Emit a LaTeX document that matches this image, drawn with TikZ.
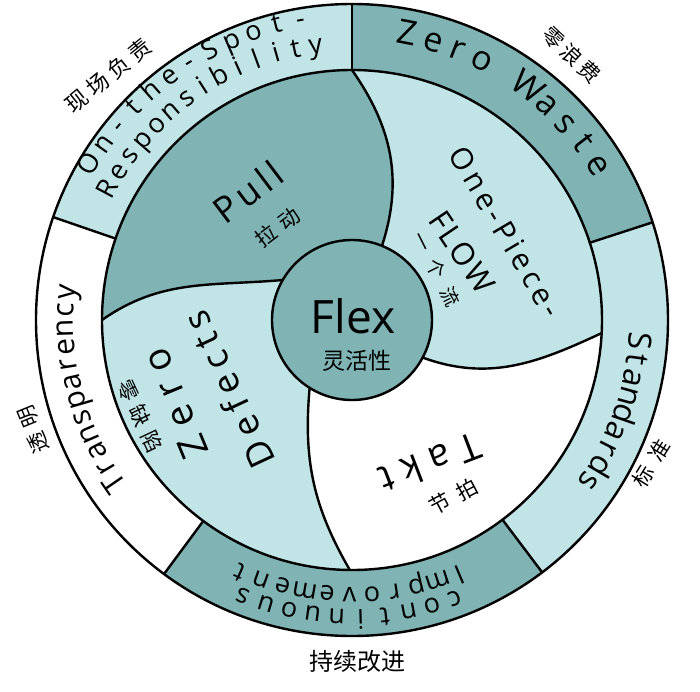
\documentclass[tikz,border=0pt]{standalone}
\usepackage{fontspec}
\setmainfont{Open Sans}
\newfontfamily\cjk{Noto Sans CJK SC}
\definecolor{darkteal}{RGB}{127,179,180}
\definecolor{lightteal}{RGB}{193,228,230}
\newcommand\fs[1]{\fontsize{#1}{#1}\selectfont}
\makeatletter
\newcommand\spacedtext[2]{\def\spt@amt{#1}\spt@first#2\relax}
\def\spt@first#1{#1\spt@next}
\def\spt@next#1{\ifx\relax#1\else\kern\spt@amt\relax#1\expandafter\spt@next\fi}
\makeatother
\tikzset{
  edge/.style={line width=2.4pt, line join=round, line cap=round},
  glyph/.style={inner sep=0pt, text height=0.72em, text depth=0.2em, anchor=center},
  word/.style={inner sep=0pt, anchor=center},
}
% ring text: name, radius, start angle, step, font size, characters
\newcommand\ringtext[6]{%
  \foreach \c [count=\i from 0] in {#6} {
    \pgfmathsetmacro\ang{#3-\i*#4}
    \node[glyph, font=\fs{#5}, rotate=\ang-90] (#1\i) at (\ang:#2) {\c};
  }}
\begin{document}
\begin{tikzpicture}[x=1pt,y=1pt]
\useasboundingbox (-352,-371) rectangle (348,320);
\fill[white] (-352,-371) rectangle (348,320);
% inner disc
\fill[lightteal] (0,0) circle[radius=250];
% Pull region
\fill[darkteal] (90:250) arc[start angle=90,end angle=180,radius=250]
  to[out=35,in=185] (150:80) arc[start angle=150,end angle=68,radius=80]
  to[out=72,in=-55] (90:250) -- cycle;
% Takt region
\fill[white] (-122:80) to[out=-95,in=120] (-90.5:250)
  arc[start angle=-90.5,end angle=-3,radius=250]
  to[out=205,in=-20] (-28:80) arc[start angle=-28,end angle=-122,radius=80] -- cycle;
% ring segments
\fill[darkteal] (18:250) arc[start angle=18,end angle=90,radius=250] -- (90:316) arc[start angle=90,end angle=18,radius=316] -- cycle;
\fill[lightteal] (90:250) arc[start angle=90,end angle=161,radius=250] -- (161:316) arc[start angle=161,end angle=90,radius=316] -- cycle;
\fill[white] (161:250) arc[start angle=161,end angle=233.5,radius=250] -- (233.5:316) arc[start angle=233.5,end angle=161,radius=316] -- cycle;
\fill[darkteal] (233.5:250) arc[start angle=233.5,end angle=307,radius=250] -- (307:316) arc[start angle=307,end angle=233.5,radius=316] -- cycle;
\fill[lightteal] (-53:250) arc[start angle=-53,end angle=18,radius=250] -- (18:316) arc[start angle=18,end angle=-53,radius=316] -- cycle;
% lines
\draw[edge] (0,0) circle[radius=316];
\draw[edge] (0,0) circle[radius=250];
\foreach \a in {90,18,-53,-126.5,161} \draw[edge] (\a:250) -- (\a:316);
\draw[edge] (90:250) to[out=-55,in=72] (68:80);
\draw[edge] (180:250) to[out=35,in=185] (150:80);
\draw[edge] (-122:80) to[out=-95,in=120] (-90.5:250);
\draw[edge] (-28:80) to[out=-20,in=205] (-3:250);
\filldraw[edge, fill=darkteal] (0,0) circle[radius=80];
% centre
\node[font=\fs{46pt}, word] (flex) at (1,4) {Flex};
\node[font=\cjk\fs{23pt}, word] (flexcn) at (5,-41) {灵活性};
% ring texts
\ringtext{zw}{283}{79}{5.2}{34pt}{Z,e,r,o,{},W,a,s,t,e}
\ringtext{os}{299}{149.3}{4.5}{27pt}{O,n,-,t,h,e,-,S,p,o,t,-}
\ringtext{rs}{271}{151.8}{4.17}{27pt}{R,e,s,p,o,n,s,i,b,i,l,i,t,y}
\ringtext{tr}{281}{214.5}{3.65}{30pt}{T,r,a,n,s,p,a,r,e,n,c,y}
\ringtext{st}{280}{-4.1}{3.76}{32pt}{S,t,a,n,d,a,r,d,s}
\ringtext{co}{292}{-69.7}{4.65}{27pt}{c,o,n,t,i,n,u,o,u,s}
\ringtext{im}{270}{-67}{4.7}{27pt}{I,m,p,r,o,v,e,m,e,n,t}
% inner texts
\node[word, font=\fs{36pt}, rotate=37] (pull) at (-104,128) {\spacedtext{5pt}{Pull}};
\node[word, font=\cjk\fs{21pt}, rotate=37] (pullcn) at (-74.5,92.5) {\spacedtext{8pt}{拉动}};
\node[word, font=\fs{30pt}, rotate=-59.5] (opf) at (154,88) {\spacedtext{4.5pt}{One-Piece-}};
\node[word, font=\fs{31pt}, rotate=-56] (flow) at (110,68) {\spacedtext{2pt}{FLOW}};
\node[word, font=\cjk\fs{19pt}, rotate=-63.4] (opfcn) at (84,51) {\spacedtext{12pt}{一个流}};
\node[word, font=\fs{38pt}, rotate=112.5] (zero) at (-177,-83.5) {\spacedtext{11pt}{Zero}};
\node[word, font=\fs{36pt}, rotate=115] (defects) at (-123.5,-70) {\spacedtext{7pt}{Defects}};
\node[word, font=\cjk\fs{21pt}, rotate=-64.8] (zdcn) at (-212,-96) {\spacedtext{7pt}{零缺陷}};
\node[word, font=\fs{38pt}, rotate=201] (takt) at (78,-143.5) {\spacedtext{10pt}{Takt}};
\node[word, font=\cjk\fs{21pt}, rotate=28] (taktcn) at (101.5,-176.5) {\spacedtext{9pt}{节拍}};
% outside labels
\node[word, font=\cjk\fs{22pt}, rotate=39] (xcfz) at (-243.5,244.5) {\spacedtext{5pt}{现场负责}};
\node[word, font=\cjk\fs{21pt}, rotate=-43] (llf) at (219.5,265.5) {\spacedtext{4pt}{零浪费}};
\node[word, font=\cjk\fs{21pt}, rotate=112] (tm) at (-318.5,-109.5) {\spacedtext{7pt}{透明}};
\node[word, font=\cjk\fs{21pt}, rotate=58] (bz) at (299.5,-143.5) {\spacedtext{10pt}{标准}};
\node[word, font=\cjk\fs{24pt}] (cxgj) at (5,-341) {持续改进};
\end{tikzpicture}
\end{document}
